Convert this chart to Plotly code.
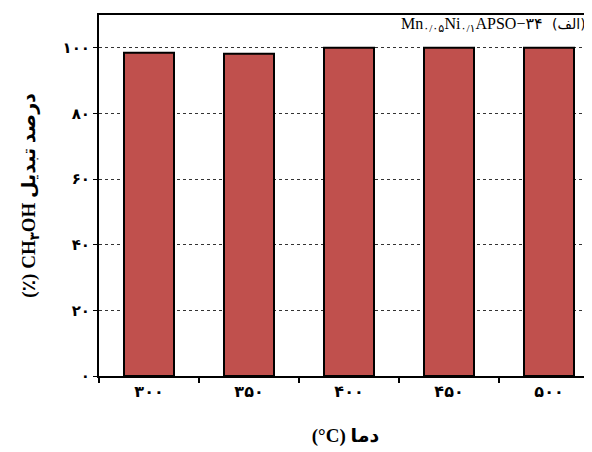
import plotly.graph_objects as go

categories = ["۳۰۰", "۳۵۰", "۴۰۰", "۴۵۰", "۵۰۰"]
conversion = [98.5, 98.2, 100, 100, 100]
y_tick_vals = [0, 20, 40, 60, 80, 100]
y_tick_text = ["۰", "۲۰", "۴۰", "۶۰", "۸۰", "۱۰۰"]

fig = go.Figure()
fig.add_trace(go.Bar(
    x=list(range(len(categories))), y=conversion, width=0.5,
    marker=dict(color="#C0504D", line=dict(color="black", width=2)),
))

fig.update_layout(
    width=584, height=444,
    margin=dict(l=91, r=0, t=7, b=76),
    plot_bgcolor="white", paper_bgcolor="white",
    showlegend=False,
    font=dict(family="Liberation Serif, DejaVu Sans, serif", color="black", size=14),
    xaxis=dict(
        range=[-0.5, 4.43], automargin=False,
        tickmode="array", tickvals=list(range(len(categories))),
        ticktext=["<b>" + c + "</b>" for c in categories],
        showgrid=False, zeroline=False,
        showline=True, linecolor="black", linewidth=2, mirror=True,
        ticks="", tickfont=dict(size=16, family="DejaVu Sans", color="black"),
        title=dict(text="<b>(°C) دما</b>", font=dict(size=19, family="Liberation Serif, DejaVu Sans"), standoff=28),
    ),
    yaxis=dict(
        range=[0, 110], automargin=False,
        tickmode="array", tickvals=y_tick_vals,
        ticktext=["<b>" + t + "</b>" for t in y_tick_text],
        showgrid=True, gridcolor="#333", griddash="dot", gridwidth=1,
        zeroline=False,
        showline=True, linecolor="black", linewidth=2,
        ticks="outside", ticklen=4, tickwidth=1, tickcolor="black",
        tickfont=dict(size=15, family="DejaVu Sans", color="black"),
        title=dict(text="<b>(٪) CH<sub>۳</sub>OH درصد تبدیل</b>", font=dict(size=19, family="Liberation Serif, DejaVu Sans"), standoff=22),
    ),
)

fig.update_xaxes(minor=dict(tickmode="array", tickvals=[-0.5, 0.5, 1.5, 2.5, 3.5],
                            ticks="outside", ticklen=5, tickwidth=2, tickcolor="black", showgrid=False))

fig.add_annotation(
    text="(الف)",
    xref="paper", yref="paper", x=0.992, y=0.975, xanchor="right", yanchor="middle",
    showarrow=False, font=dict(size=14, family="DejaVu Sans", color="black"),
)
fig.add_annotation(
    text="Mn<sub>۰/۰۵</sub>Ni<sub>۰/۱</sub>APSO−۳۴",
    xref="paper", yref="paper", x=0.905, y=0.975, xanchor="right", yanchor="middle",
    showarrow=False, font=dict(size=16, family="Liberation Serif, DejaVu Sans", color="black"),
)

fig.write_html("out.html")
